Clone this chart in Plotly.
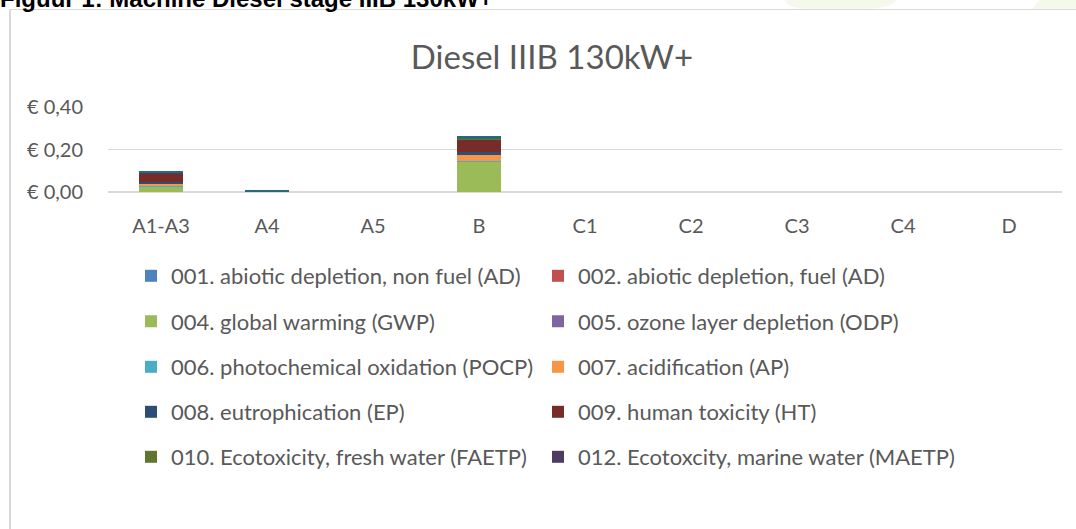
import plotly.graph_objects as go

# ---------------- data ----------------
categories = ["A1-A3", "A4", "A5", "B", "C1", "C2", "C3", "C4", "D"]

series_names = [
    "001. abiotic depletion, non fuel (AD)",
    "002. abiotic depletion, fuel (AD)",
    "004. global warming (GWP)",
    "005. ozone layer depletion (ODP)",
    "006. photochemical oxidation (POCP)",
    "007. acidification (AP)",
    "008. eutrophication (EP)",
    "009. human toxicity (HT)",
    "010. Ecotoxicity, fresh water (FAETP)",
    "012. Ecotoxcity, marine water (MAETP)",
    "011. Ecotoxicity, terrestrial (TETP)",
]
series_colors = [
    "#4F81BD", "#C0504D", "#9BBB59", "#8064A2", "#4BACC6",
    "#F79646", "#2C4D75", "#772C2A", "#5F7530", "#4D3B62", "#276A7C",
]
show_in_legend = [True] * 10 + [False]

ad_nonfuel = [0.0010, 0.0002, 0, 0.0010, 0, 0, 0, 0, 0]
ad_fuel    = [0.0005, 0.0001, 0, 0.0005, 0, 0, 0, 0, 0]
gwp        = [0.0250, 0.0010, 0, 0.1440, 0, 0, 0, 0, 0]
odp        = [0.0000, 0.0000, 0, 0.0000, 0, 0, 0, 0, 0]
pocp       = [0.0005, 0.0001, 0, 0.0010, 0, 0, 0, 0, 0]
ap         = [0.0120, 0.0002, 0, 0.0280, 0, 0, 0, 0, 0]
ep         = [0.0060, 0.0001, 0, 0.0150, 0, 0, 0, 0, 0]
ht         = [0.0420, 0.0005, 0, 0.0590, 0, 0, 0, 0, 0]
faetp      = [0.0015, 0.0001, 0, 0.0010, 0, 0, 0, 0, 0]
maetp      = [0.0015, 0.0001, 0, 0.0010, 0, 0, 0, 0, 0]
tetp       = [0.0070, 0.0080, 0, 0.0110, 0, 0, 0, 0, 0]

series_values = [ad_nonfuel, ad_fuel, gwp, odp, pocp, ap, ep, ht, faetp, maetp, tetp]

y_ticks = [0.0, 0.2, 0.4]
y_tick_labels = ["€ 0,00", "€ 0,20", "€ 0,40"]

# ---------------- layout geometry ----------------
W, H = 1076, 529
ML, MR, MT, MB = 108, 14, 107, 337
PW = W - ML - MR
PH = H - MT - MB

def xp(px):
    return (px - ML) / PW

def yp(py):
    return (H - MB - py) / PH

TEXT = "#595959"
FONT = "Lato"

fig = go.Figure()

# legend placement: 5 rows x 2 columns, one legend per visible entry
row_y = [276, 321.5, 367, 412, 457]
col_x = [131, 538]
legend_layouts = {}
li = 0
for i, (name, vals, col, show) in enumerate(zip(series_names, series_values, series_colors, show_in_legend)):
    lname = None
    if show:
        r, c = divmod(li, 2)
        lname = "legend" if li == 0 else f"legend{li + 1}"
        legend_layouts[lname] = dict(
            x=col_x[c] / W, y=1 - row_y[r] / H,
            xref="container", yref="container",
            xanchor="left", yanchor="middle",
            orientation="h", bgcolor="rgba(0,0,0,0)",
            font=dict(family=FONT, size=22, color=TEXT),
            itemclick=False, itemdoubleclick=False,
        )
        li += 1
    kw = dict(legend=lname) if lname else {}
    fig.add_trace(go.Bar(
        x=categories, y=vals, name=name,
        marker=dict(color=col, line=dict(width=0)),
        showlegend=show, **kw,
    ))

# border of chart area and page header (clipped at top)
shapes = [
    dict(type="line", xref="paper", yref="paper",
         x0=xp(10), x1=xp(W + 5), y0=yp(9.5), y1=yp(9.5),
         line=dict(color="#D9D9D9", width=1.2)),
    dict(type="line", xref="paper", yref="paper",
         x0=xp(10), x1=xp(10), y0=yp(9.5), y1=yp(H + 5),
         line=dict(color="#D9D9D9", width=2)),
    dict(type="path", xref="paper", yref="paper",
         path=f"M {xp(785)} {yp(0)} L {xp(897)} {yp(0)} Q {xp(890)} {yp(9)} {xp(860)} {yp(9)} "
              f"L {xp(810)} {yp(9)} Q {xp(788)} {yp(9)} {xp(785)} {yp(0)} Z",
         fillcolor="#F5F9EC", line=dict(width=0), layer="below"),
    dict(type="path", xref="paper", yref="paper",
         path=f"M {xp(1040)} {yp(0)} L {xp(1076)} {yp(0)} L {xp(1076)} {yp(9)} L {xp(1032)} {yp(9)} Z",
         fillcolor="#F5F9EC", line=dict(width=0), layer="below"),
]

annotations = [
    dict(text="<b>Figuur 1: Machine Diesel stage IIIB 130kW+</b>",
         xref="paper", yref="paper", x=xp(-2), y=yp(14.5), xanchor="left", yanchor="bottom",
         showarrow=False, font=dict(family="Liberation Sans", size=24, color="#000000")),
]

fig.update_layout(
    width=W, height=H,
    margin=dict(l=ML, r=MR, t=MT, b=MB),
    paper_bgcolor="white", plot_bgcolor="white",
    barmode="stack", bargap=0.585,
    title=dict(text="Diesel IIIB 130kW+", x=552 / W, y=1 - 57 / H,
               xref="container", yref="container", xanchor="center", yanchor="middle",
               font=dict(family=FONT, size=33, color=TEXT)),
    xaxis=dict(showgrid=False, showline=False, zeroline=False,
               ticks="outside", ticklen=16, tickcolor="rgba(0,0,0,0)",
               tickfont=dict(family=FONT, size=20, color=TEXT), fixedrange=True),
    yaxis=dict(range=[0, 0.4], tickvals=y_ticks, ticktext=y_tick_labels,
               showgrid=True, gridcolor="#D9D9D9", gridwidth=1.3,
               zeroline=True, zerolinecolor="#D9D9D9", zerolinewidth=1.6,
               showline=False, ticks="outside", ticklen=20, tickcolor="rgba(0,0,0,0)",
               tickfont=dict(family=FONT, size=20, color=TEXT), fixedrange=True),
    shapes=shapes,
    annotations=annotations,
    **legend_layouts,
)

fig.write_html(
    "out.html",
    config={"displayModeBar": False, "staticPlot": False},
    post_script="document.body.style.margin='0';document.body.style.overflow='hidden';",
)
